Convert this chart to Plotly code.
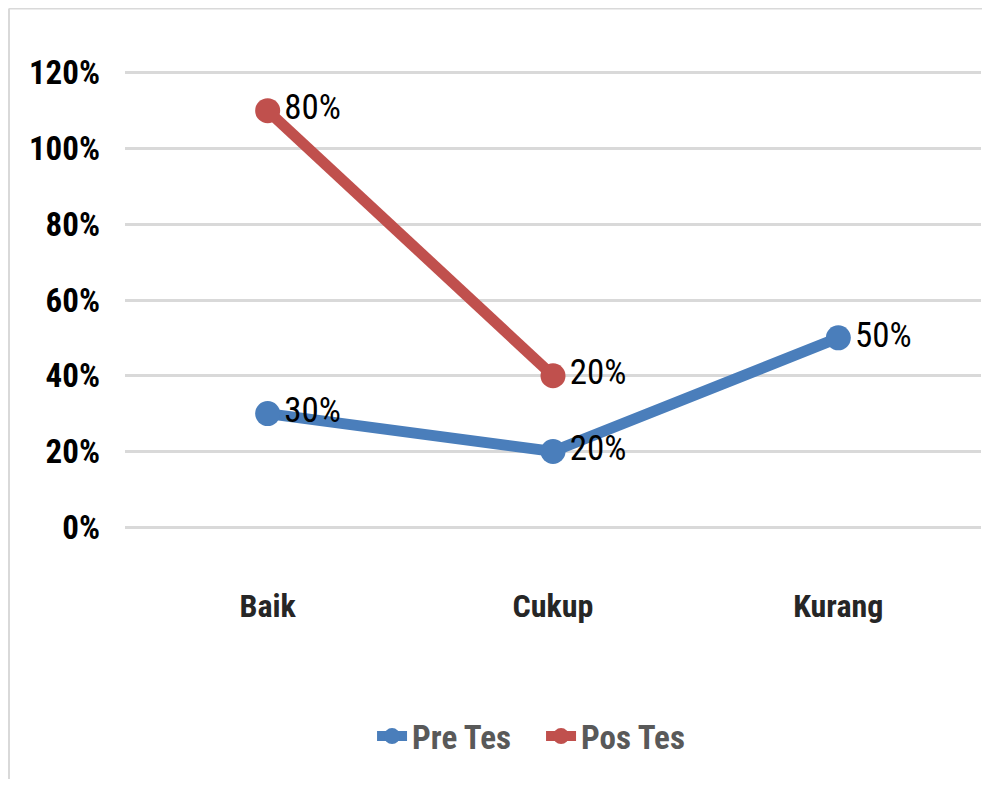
import plotly.graph_objects as go

categories = ["Baik", "Cukup", "Kurang"]
pre_tes = [0.30, 0.20, 0.50]
pos_tes = [0.80, 0.20, None]
y_ticks = [0, 0.2, 0.4, 0.6, 0.8, 1.0, 1.2]
y_tick_labels = ["0%", "20%", "40%", "60%", "80%", "100%", "120%"]

FONT = "Roboto Condensed, Liberation Sans Narrow, Arial Narrow, sans-serif"

# stacked line: Pos Tes plotted on top of Pre Tes
pos_stacked = [p + q if q is not None else None for p, q in zip(pre_tes, pos_tes)]

def pct(v):
    return "" if v is None else f"{round(v*100)}%"

fig = go.Figure()
fig.add_trace(go.Scatter(
    x=categories, y=pre_tes, name="Pre Tes", mode="lines+markers+text",
    line=dict(color="#4A7EBB", width=11),
    marker=dict(color="#4A7EBB", size=25),
    text=[pct(v) for v in pre_tes], textposition="middle right",
    textfont=dict(family=FONT, size=35, color="#000000"),
    cliponaxis=False,
))
fig.add_trace(go.Scatter(
    x=categories, y=pos_stacked, name="Pos Tes", mode="lines+markers+text",
    line=dict(color="#C0504D", width=11),
    marker=dict(color="#C0504D", size=25),
    text=[pct(v) for v in pos_tes], textposition="middle right",
    textfont=dict(family=FONT, size=35, color="#000000"),
    connectgaps=False, cliponaxis=False,
))

fig.update_layout(
    template="none",
    width=974, height=771,
    margin=dict(l=117, r=1, t=61, b=248, autoexpand=False),
    paper_bgcolor="white", plot_bgcolor="white",
    font=dict(family=FONT),
    showlegend=True,
    legend=dict(orientation="h", x=0.2886, xanchor="left", y=-0.444, yanchor="middle",
                font=dict(family=FONT, size=33, color="#595959", weight="bold"),
                itemwidth=30, entrywidth=124, entrywidthmode="pixels",
                bgcolor="rgba(0,0,0,0)"),
    xaxis=dict(range=[-0.5, 2.5], showgrid=False, zeroline=False, showline=False, ticks="",
               automargin=False,
               tickfont=dict(family=FONT, size=32, color="#262626", weight="bold"),
               ticklabelstandoff=53),
    yaxis=dict(range=[-0.01, 1.21], tickvals=y_ticks, ticktext=y_tick_labels,
               showgrid=True, gridcolor="#D9D9D9", gridwidth=3,
               zeroline=False, showline=False, ticks="", automargin=False,
               tickfont=dict(family=FONT, size=33, color="#000000", weight="bold"),
               ticklabelstandoff=24),
    shapes=[
        dict(type="line", xref="paper", yref="paper",
             x0=-0.1355, x1=1.02, y0=1.131, y1=1.131,
             line=dict(color="#D9D9D9", width=2), layer="below"),
        dict(type="line", xref="paper", yref="paper",
             x0=-0.1355, x1=-0.1355, y0=-0.6, y1=1.131,
             line=dict(color="#D9D9D9", width=2), layer="below"),
    ],
)

fig.write_html("out.html")
